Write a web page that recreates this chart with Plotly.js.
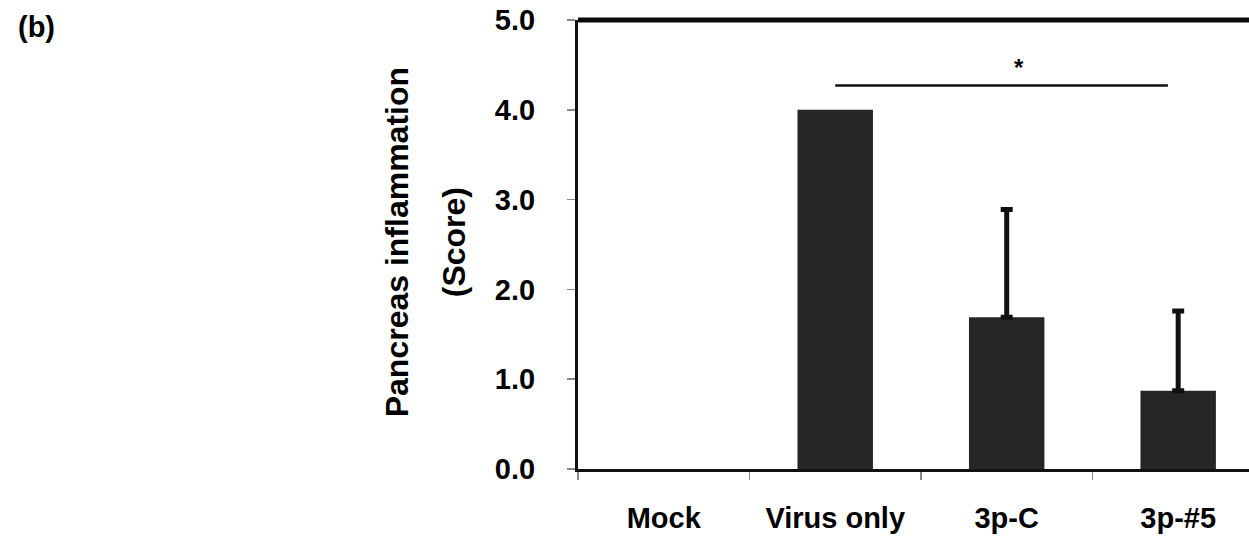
<!DOCTYPE html>
<html>
<head>
<meta charset="utf-8">
<script src="https://cdn.plot.ly/plotly-3.0.1.min.js"></script>
<style>
html,body{margin:0;padding:0;background:#fff;}
#chart{width:1249px;height:537px;}
</style>
</head>
<body>
<div id="chart"></div>
<script>
// Data
const categories = ["Mock", "Virus only", "3p-C", "3p-#5"];
const scores = [0, 4.0, 1.69, 0.87];
const errorsUp = [null, null, 1.20, 0.89];
const yTickValues = [0, 1, 2, 3, 4, 5];
const yTitleLines = ["Pancreas inflammation", "(Score)"];
const panelLabel = "(b)";
const sigFrom = 1.0, sigTo = 2.94, sigLevel = 4.27, sigMark = "*";

const FONT = "Liberation Sans, Arial, sans-serif";

const barTrace = {
  type: "bar",
  x: categories,
  y: scores,
  width: 0.44,
  marker: {color: "#262626", line: {width: 0}},
  hoverinfo: "skip"
};

const errIdx = errorsUp.map((e, i) => (e === null ? -1 : i)).filter(i => i >= 0);
const errTrace = {
  type: "scatter",
  mode: "none",
  x: errIdx.map(i => categories[i]),
  y: errIdx.map(i => scores[i]),
  error_y: {
    type: "data",
    symmetric: false,
    array: errIdx.map(i => errorsUp[i]),
    arrayminus: errIdx.map(() => 0),
    color: "#111111",
    thickness: 5,
    width: 6
  },
  hoverinfo: "skip"
};

const layout = {
  width: 1249,
  height: 537,
  margin: {l: 578, r: 0, t: 20, b: 68},
  paper_bgcolor: "#ffffff",
  plot_bgcolor: "#ffffff",
  showlegend: false,
  font: {family: FONT, color: "#000", size: 28},
  xaxis: {
    type: "category",
    range: [-0.5, 3.413],
    tickson: "boundaries",
    ticks: "outside",
    ticklen: 8,
    tickwidth: 1.5,
    tickcolor: "#888",
    ticklabelstandoff: 21,
    tickfont: {family: FONT, size: 29, color: "#000", weight: "bold"},
    showline: true,
    linecolor: "#111",
    linewidth: 3,
    showgrid: false,
    zeroline: false,
    fixedrange: true
  },
  yaxis: {
    range: [0, 5],
    tickvals: yTickValues,
    tickformat: ".1f",
    ticks: "outside",
    ticklen: 8,
    tickwidth: 1.5,
    tickcolor: "#888",
    ticklabelstandoff: 26,
    tickfont: {family: FONT, size: 29, color: "#000", weight: "bold"},
    showline: true,
    linecolor: "#111",
    linewidth: 3,
    showgrid: false,
    zeroline: false,
    fixedrange: true
  },
  shapes: [
    {type: "line", xref: "paper", yref: "paper", x0: 0, x1: 1, y0: 1, y1: 1,
     line: {color: "#0a0a0a", width: 5}},
    {type: "line", xref: "x", yref: "y", x0: sigFrom, x1: sigTo, y0: sigLevel, y1: sigLevel,
     line: {color: "#111", width: 2.5}}
  ],
  annotations: [
    {text: sigMark, xref: "x", yref: "y", x: (sigFrom + sigTo) / 2 + 0.1, y: sigLevel + 0.2,
     showarrow: false, font: {family: FONT, size: 24, color: "#000", weight: "bold"}},
    {text: yTitleLines[0], xref: "paper", yref: "paper", x: -0.2697, y: 0.505,
     textangle: -90, showarrow: false, xanchor: "center", yanchor: "middle",
     font: {family: FONT, size: 32, color: "#000", weight: "bold"}},
    {text: yTitleLines[1], xref: "paper", yref: "paper", x: -0.1848, y: 0.505,
     textangle: -90, showarrow: false, xanchor: "center", yanchor: "middle",
     font: {family: FONT, size: 32, color: "#000", weight: "bold"}},
    {text: panelLabel, xref: "paper", yref: "paper", x: -0.838, y: 0.985, xanchor: "left",
     yanchor: "middle", showarrow: false,
     font: {family: FONT, size: 29, color: "#000", weight: "bold"}}
  ]
};

Plotly.newPlot("chart", [barTrace, errTrace], layout, {displayModeBar: false, staticPlot: true});
</script>
</body>
</html>
